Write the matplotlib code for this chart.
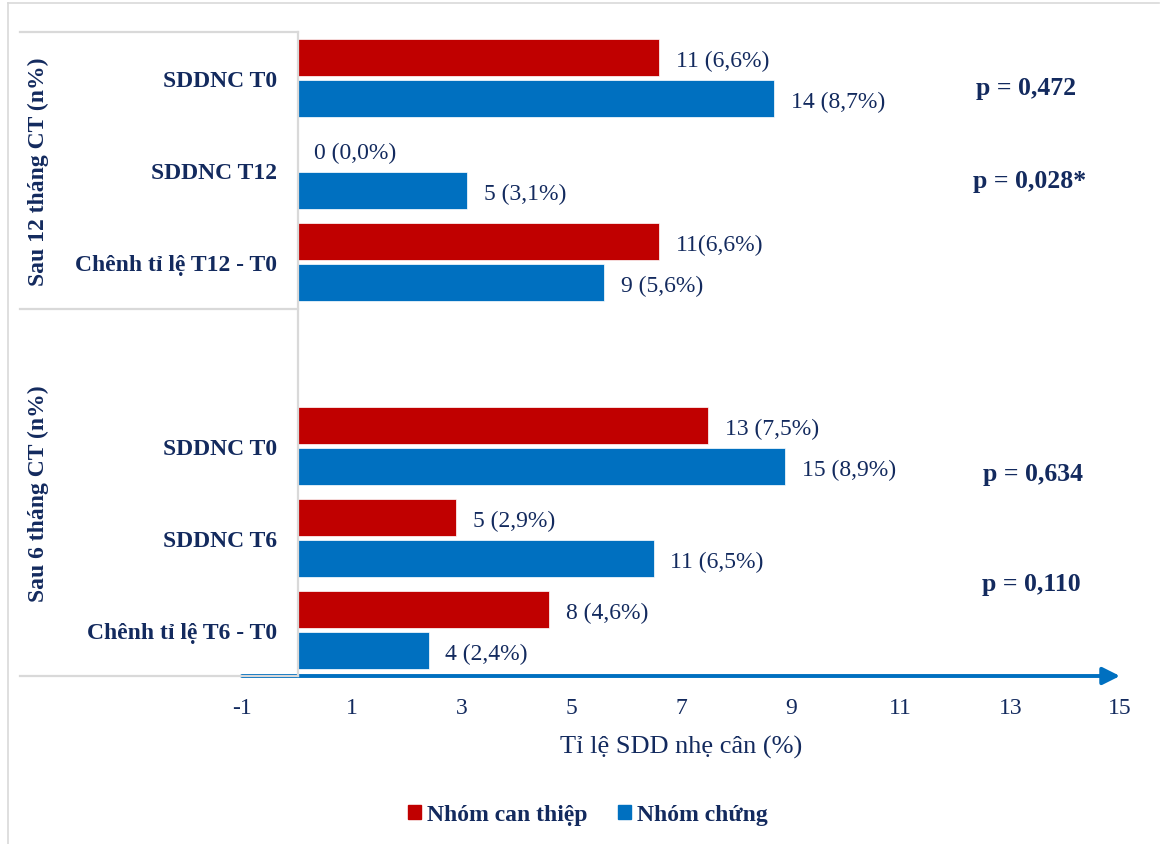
import matplotlib.pyplot as plt
from matplotlib.lines import Line2D
from matplotlib.patches import Patch
import matplotlib.transforms as mtransforms

plt.rcParams['font.family'] = ['Liberation Serif', 'DejaVu Serif']
plt.rcParams['axes.unicode_minus'] = False

# du lieu
nhom = ['Sau 12 tháng CT (n%)', 'Sau 6 tháng CT (n%)']
hang = ['SDDNC T0', 'SDDNC T12', 'Chênh tỉ lệ T12 - T0', '',
        'SDDNC T0', 'SDDNC T6', 'Chênh tỉ lệ T6 - T0']
can_thiep = [6.6, 0.0, 6.6, None, 7.5, 2.9, 4.6]
chung = [8.7, 3.1, 5.6, None, 8.9, 6.5, 2.4]
nhan_ct = ['11 (6,6%)', '0 (0,0%)', '11(6,6%)', '', '13 (7,5%)', '5 (2,9%)', '8 (4,6%)']
nhan_ch = ['14 (8,7%)', '5 (3,1%)', '9 (5,6%)', '', '15 (8,9%)', '11 (6,5%)', '4 (2,4%)']
p_text = ['p = 0,472', 'p = 0,028*', 'p = 0,634', 'p = 0,110']
p_pos = [(13.28, 0.60), (13.35, 1.61), (13.42, 4.80), (13.38, 6.0)]
xticks = [-1, 1, 3, 5, 7, 9, 11, 13, 15]

do = '#C00000'
xanh = '#0070C0'
chu = '#132A5E'
xam = '#D9D9D9'

W, H = 1160, 845
fig = plt.figure(figsize=(11.6, 8.45), dpi=100)
fig.set_facecolor('white')
ax = fig.add_axes([242 / W, 1 - 677 / H, 878 / W, 644 / H])

bh = 0.40
off = 0.2225
for i in range(len(hang)):
    if can_thiep[i] is None:
        continue
    yc = i + 0.5
    ax.barh(yc - off, can_thiep[i], height=bh, color=do, edgecolor='white', linewidth=0.5)
    ax.barh(yc + off, chung[i], height=bh, color=xanh, edgecolor='white', linewidth=0.5)
    ax.annotate(nhan_ct[i], xy=(can_thiep[i], yc - off), xytext=(12, -2),
                textcoords='offset points', va='center', ha='left',
                fontsize=17, color=chu)
    ax.annotate(nhan_ch[i], xy=(chung[i], yc + off), xytext=(12, -2),
                textcoords='offset points', va='center', ha='left',
                fontsize=17, color=chu)

for t, (px, py) in zip(p_text, p_pos):
    ax.text(px, py, t, ha='center', va='center', fontsize=18.5,
            fontweight='bold', color=chu)

ax.set_xlim(-1, 15)
ax.set_ylim(7, 0)
ax.set_xticks(xticks)
ax.set_yticks([])
ax.tick_params(axis='x', length=0, pad=15, labelsize=17, colors=chu)
for s in ax.spines.values():
    s.set_visible(False)
ax.set_xlabel('Tỉ lệ SDD nhẹ cân (%)', fontsize=19, color=chu, labelpad=12)

# truc x co mui ten
ax.annotate('', xy=(15, 7), xytext=(-1, 7),
            arrowprops=dict(arrowstyle='-|>', color=xanh, lw=2.8,
                            mutation_scale=26, shrinkA=0, shrinkB=0),
            annotation_clip=False)

# nhan hang
trans = mtransforms.blended_transform_factory(fig.transFigure, ax.transData)
for i, h in enumerate(hang):
    if h:
        ax.annotate(h, xy=(277 / W, i + 0.5), xycoords=trans, xytext=(0, -2),
                    textcoords='offset points', ha='right', va='center',
                    fontsize=17, fontweight='bold', color=chu)

# nhan nhom
fig.text(38 / W, 1 - 171.5 / H, nhom[0], rotation=90, ha='center', va='center',
         fontsize=17, fontweight='bold', color=chu)
fig.text(38 / W, 1 - 493.5 / H, nhom[1], rotation=90, ha='center', va='center',
         fontsize=17, fontweight='bold', color=chu)

# khung ben trai
for yy in [33, 310, 677]:
    fig.add_artist(Line2D([20 / W, 298 / W], [1 - yy / H, 1 - yy / H], color=xam, lw=1.6))
fig.add_artist(Line2D([298 / W, 298 / W], [1 - 33 / H, 1 - 677 / H], color=xam, lw=1.6))
# vien ngoai
fig.add_artist(Line2D([8 / W, 1159 / W], [1 - 4 / H, 1 - 4 / H], color=xam, lw=1.2))
fig.add_artist(Line2D([8 / W, 8 / W], [1 - 4 / H, 0], color=xam, lw=1.2))

handles = [Patch(color=do, label='Nhóm can thiệp'), Patch(color=xanh, label='Nhóm chứng')]
leg = fig.legend(handles=handles, loc='center', bbox_to_anchor=(588 / W, 1 - 816 / H),
                 ncol=2, frameon=False, handlelength=0.55, handleheight=0.55,
                 handletextpad=0.25, columnspacing=1.3,
                 prop={'size': 17, 'weight': 'bold'})
for t in leg.get_texts():
    t.set_color(chu)

fig.savefig('out.png', dpi=100, facecolor='white')
